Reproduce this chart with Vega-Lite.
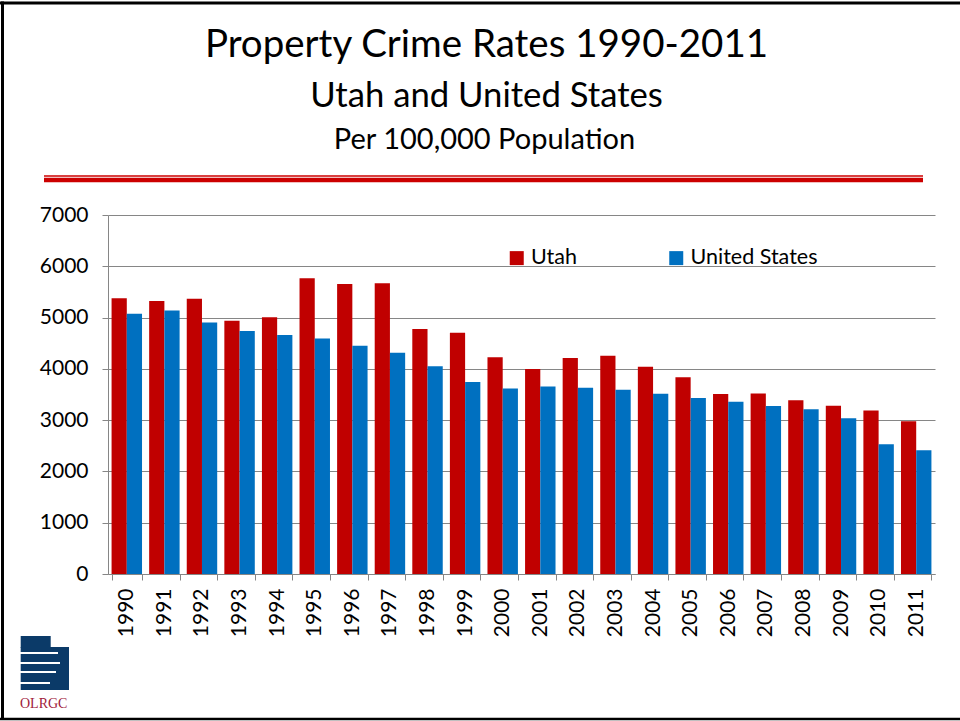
{
  "$schema": "https://vega.github.io/schema/vega-lite/v6.json",
  "autosize": {"type": "none"},
  "width": 827,
  "height": 359,
  "padding": {"left": 108, "top": 215, "right": 25, "bottom": 147},
  "background": "white",
  "config": {
    "font": "Lato",
    "view": {"stroke": null},
    "axis": {"labelFont": "Lato", "labelColor": "#000000"}
  },
  "title": {
    "text": "Property Crime Rates 1990-2011",
    "subtitle": "Utah and United States",
    "font": "Lato",
    "fontSize": 38.5,
    "fontWeight": "normal",
    "color": "#000000",
    "subtitleFont": "Lato",
    "subtitleFontSize": 34.7,
    "subtitleColor": "#000000",
    "subtitlePadding": 15,
    "anchor": "middle",
    "frame": "group",
    "dx": -35,
    "offset": -115
  },
  "data": {
    "values": [
      {"year": "1990", "series": "Utah", "rate": 5375},
      {"year": "1991", "series": "Utah", "rate": 5323},
      {"year": "1992", "series": "Utah", "rate": 5368},
      {"year": "1993", "series": "Utah", "rate": 4939},
      {"year": "1994", "series": "Utah", "rate": 5004},
      {"year": "1995", "series": "Utah", "rate": 5765},
      {"year": "1996", "series": "Utah", "rate": 5654},
      {"year": "1997", "series": "Utah", "rate": 5667},
      {"year": "1998", "series": "Utah", "rate": 4777},
      {"year": "1999", "series": "Utah", "rate": 4705},
      {"year": "2000", "series": "Utah", "rate": 4225},
      {"year": "2001", "series": "Utah", "rate": 3996},
      {"year": "2002", "series": "Utah", "rate": 4210},
      {"year": "2003", "series": "Utah", "rate": 4256},
      {"year": "2004", "series": "Utah", "rate": 4040},
      {"year": "2005", "series": "Utah", "rate": 3838},
      {"year": "2006", "series": "Utah", "rate": 3509},
      {"year": "2007", "series": "Utah", "rate": 3521},
      {"year": "2008", "series": "Utah", "rate": 3389},
      {"year": "2009", "series": "Utah", "rate": 3279},
      {"year": "2010", "series": "Utah", "rate": 3188},
      {"year": "2011", "series": "Utah", "rate": 2979},
      {"year": "1990", "series": "United States", "rate": 5073},
      {"year": "1991", "series": "United States", "rate": 5140},
      {"year": "1992", "series": "United States", "rate": 4903},
      {"year": "1993", "series": "United States", "rate": 4740},
      {"year": "1994", "series": "United States", "rate": 4660},
      {"year": "1995", "series": "United States", "rate": 4591},
      {"year": "1996", "series": "United States", "rate": 4451},
      {"year": "1997", "series": "United States", "rate": 4316},
      {"year": "1998", "series": "United States", "rate": 4052},
      {"year": "1999", "series": "United States", "rate": 3744},
      {"year": "2000", "series": "United States", "rate": 3618},
      {"year": "2001", "series": "United States", "rate": 3658},
      {"year": "2002", "series": "United States", "rate": 3630},
      {"year": "2003", "series": "United States", "rate": 3591},
      {"year": "2004", "series": "United States", "rate": 3514},
      {"year": "2005", "series": "United States", "rate": 3432},
      {"year": "2006", "series": "United States", "rate": 3360},
      {"year": "2007", "series": "United States", "rate": 3276},
      {"year": "2008", "series": "United States", "rate": 3214},
      {"year": "2009", "series": "United States", "rate": 3036},
      {"year": "2010", "series": "United States", "rate": 2532},
      {"year": "2011", "series": "United States", "rate": 2415}
    ]
  },
  "layer": [
    {
      "mark": {"type": "bar"},
      "encoding": {
        "x": {
          "field": "year",
          "type": "nominal",
          "sort": "ascending",
          "scale": {"paddingInner": 0.19, "paddingOuter": 0.095},
          "axis": {
            "title": null,
            "labelAngle": -90,
            "labelFontSize": 21,
            "labelPadding": 8,
            "tickBand": "extent",
            "tickSize": 6,
            "tickColor": "#868686",
            "domainColor": "#868686",
            "grid": false
          }
        },
        "xOffset": {
          "field": "series",
          "type": "nominal",
          "sort": ["Utah", "United States"],
          "scale": {"paddingInner": 0, "paddingOuter": 0}
        },
        "y": {
          "field": "rate",
          "type": "quantitative",
          "scale": {"domain": [0, 7000], "nice": false},
          "axis": {
            "title": "Per 100,000 Population",
            "titleFont": "Lato",
            "titleFontSize": 29,
            "titleFontWeight": "normal",
            "titleColor": "#000000",
            "titleAngle": 0,
            "titleAlign": "center",
            "titleBaseline": "alphabetic",
            "titleX": 376,
            "titleY": -67,
            "format": "d",
            "values": [0, 1000, 2000, 3000, 4000, 5000, 6000, 7000],
            "labelFontSize": 21,
            "labelPadding": 14,
            "tickSize": 6,
            "tickColor": "#868686",
            "domainColor": "#868686",
            "grid": true,
            "gridColor": "#868686",
            "gridOpacity": 1
          }
        },
        "color": {
          "field": "series",
          "type": "nominal",
          "sort": ["Utah", "United States"],
          "scale": {"domain": ["Utah", "United States"], "range": ["#c00000", "#0070c0"]},
          "legend": {
            "title": null,
            "orient": "none",
            "legendX": 398,
            "legendY": 32,
            "direction": "horizontal",
            "columns": 2,
            "columnPadding": 88.5,
            "symbolType": "square",
            "symbolSize": 196,
            "symbolStrokeWidth": 0,
            "symbolOpacity": 1,
            "labelFont": "Lato",
            "labelFontSize": 21.5,
            "labelColor": "#000000",
            "labelOffset": 3.5,
            "labelLimit": 300
          }
        }
      }
    },
    {
      "data": {"values": [{}]},
      "mark": {"type": "rule", "color": "#cc0000", "strokeWidth": 1.5},
      "encoding": {"x": {"value": -64}, "x2": {"value": 815}, "y": {"value": -39}}
    },
    {
      "data": {"values": [{}]},
      "mark": {"type": "rule", "color": "#cc0000", "strokeWidth": 4.5},
      "encoding": {"x": {"value": -64}, "x2": {"value": 815}, "y": {"value": -35}}
    },
    {
      "data": {"values": [{}]},
      "mark": {"type": "rule", "color": "#000000", "strokeWidth": 3},
      "encoding": {"x": {"value": -108}, "x2": {"value": 852}, "y": {"value": -212}}
    },
    {
      "data": {"values": [{}]},
      "mark": {"type": "rule", "color": "#000000", "strokeWidth": 3},
      "encoding": {"x": {"value": -105.5}, "y": {"value": -213.5}, "y2": {"value": 505}}
    },
    {
      "data": {"values": [{}]},
      "mark": {"type": "rule", "color": "#000000", "strokeWidth": 2.5},
      "encoding": {"x": {"value": -108}, "x2": {"value": 852}, "y": {"value": 504}}
    },
    {
      "data": {"values": [{}]},
      "mark": {"type": "rect", "color": "#0b3a68"},
      "encoding": {"x": {"value": -87.3}, "x2": {"value": -57.3}, "y": {"value": 421}, "y2": {"value": 433}}
    },
    {
      "data": {"values": [{}]},
      "mark": {"type": "rect", "color": "#0b3a68"},
      "encoding": {"x": {"value": -87.3}, "x2": {"value": -39}, "y": {"value": 432}, "y2": {"value": 475}}
    },
    {
      "data": {"values": [{}]},
      "mark": {"type": "rule", "color": "#ffffff", "strokeWidth": 2},
      "encoding": {"x": {"value": -88}, "x2": {"value": -50}, "y": {"value": 438}}
    },
    {
      "data": {"values": [{}]},
      "mark": {"type": "rule", "color": "#ffffff", "strokeWidth": 2},
      "encoding": {"x": {"value": -88}, "x2": {"value": -48}, "y": {"value": 448}}
    },
    {
      "data": {"values": [{}]},
      "mark": {"type": "rule", "color": "#ffffff", "strokeWidth": 2},
      "encoding": {"x": {"value": -88}, "x2": {"value": -52}, "y": {"value": 457}}
    },
    {
      "data": {"values": [{}]},
      "mark": {"type": "rule", "color": "#ffffff", "strokeWidth": 2},
      "encoding": {"x": {"value": -88}, "x2": {"value": -58}, "y": {"value": 468}}
    },
    {
      "data": {"values": [{"label": "OLRGC"}]},
      "mark": {"type": "text", "font": "Liberation Serif", "fontSize": 14, "color": "#a0203a", "align": "left", "baseline": "alphabetic"},
      "encoding": {"text": {"field": "label"}, "x": {"value": -88}, "y": {"value": 493}}
    }
  ]
}
